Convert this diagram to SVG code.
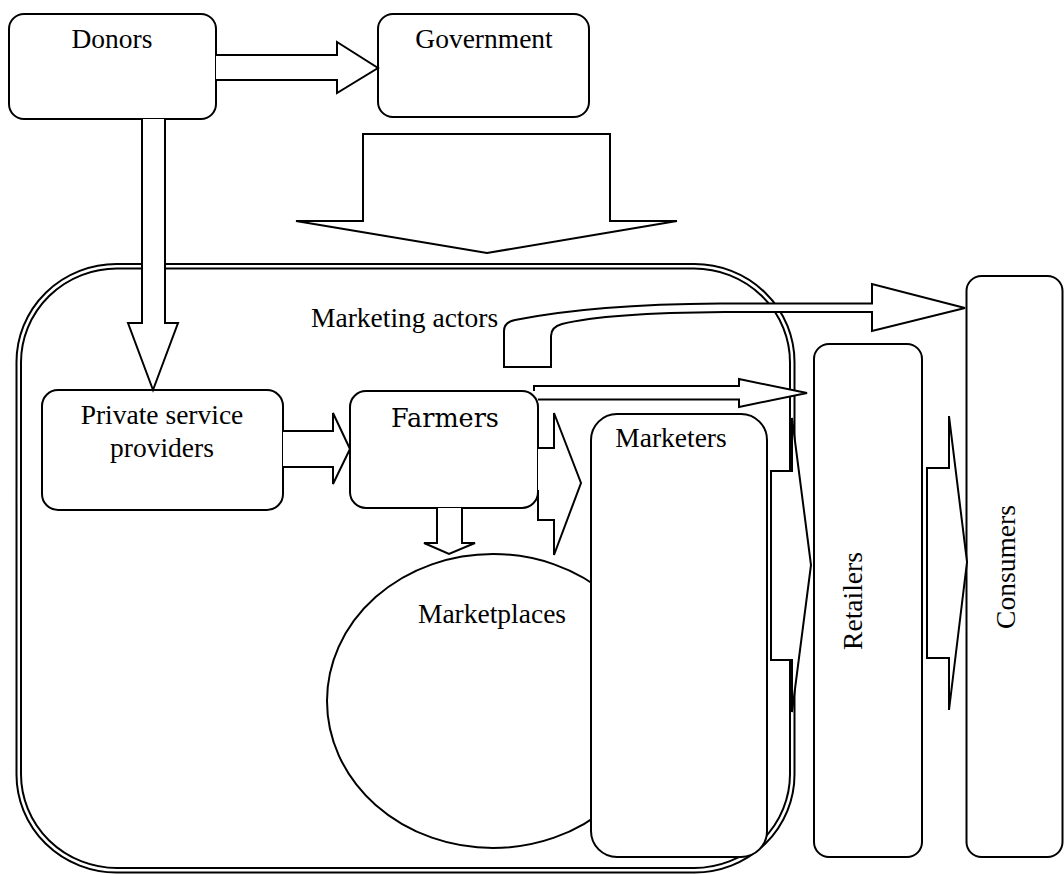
<svg xmlns="http://www.w3.org/2000/svg" width="1064" height="874" viewBox="0 0 1064 874">
  <style>
    .box { fill: #fff; stroke: #000; stroke-width: 2; }
    .frame { fill: none; stroke: #000; stroke-width: 2; }
    .arrow { fill: #fff; stroke: #000; stroke-width: 2; stroke-linejoin: miter; }
    .lbl { font-family: "Liberation Serif", "Times New Roman", serif; font-size: 27.5px; fill: #000; }
    .lbl-c { font-family: "DejaVu Serif", "Liberation Serif", serif; font-size: 25.5px; fill: #000; }
  </style>
  <rect width="1064" height="874" fill="#fff"/>

  <!-- Marketing actors enclosure: double-lined rounded frame -->
  <g id="marketing-actors">
    <rect x="16.5" y="264" width="778" height="608.5" rx="100" ry="98" fill="#fff" stroke="#000" stroke-width="2"/>
    <rect x="21" y="268.5" width="769" height="599.5" rx="96" ry="94" class="frame"/>
    <text class="lbl" x="311" y="327">Marketing actors</text>
  </g>

  <g id="donors">
    <rect class="box" x="9" y="14" width="207" height="105" rx="15"/>
    <text class="lbl" x="112" y="48" text-anchor="middle">Donors</text>
  </g>

  <g id="government">
    <rect class="box" x="378" y="14" width="211" height="103" rx="15"/>
    <text class="lbl" x="484" y="48" text-anchor="middle">Government</text>
  </g>

  <g id="private-service-providers">
    <rect class="box" x="42" y="390" width="241" height="120" rx="16"/>
    <text class="lbl" x="162" y="424" text-anchor="middle">Private service</text>
    <text class="lbl" x="162" y="457" text-anchor="middle">providers</text>
  </g>

  <g id="farmers">
    <rect class="box" x="350" y="391" width="188" height="117" rx="16"/>
    <text class="lbl-c" x="445" y="427" text-anchor="middle">Farmers</text>
  </g>

  <g id="marketplaces">
    <ellipse class="box" cx="493" cy="701" rx="166" ry="147"/>
    <text class="lbl" x="492" y="623" text-anchor="middle">Marketplaces</text>
  </g>

  <g id="marketers">
    <rect class="box" x="591" y="414" width="176" height="443" rx="26"/>
    <text class="lbl" x="671" y="447" text-anchor="middle">Marketers</text>
  </g>

  <g id="retailers">
    <rect class="box" x="814" y="344" width="108" height="513" rx="15"/>
    <text class="lbl" transform="translate(862,601) rotate(-90)" text-anchor="middle">Retailers</text>
  </g>

  <g id="consumers">
    <rect class="box" x="966.5" y="276" width="96" height="581" rx="15"/>
    <text class="lbl" transform="translate(1015,567) rotate(-90)" text-anchor="middle">Consumers</text>
  </g>

  <!-- Block arrows between actors -->
  <g id="connectors">
    <!-- Donors to Government -->
    <path class="arrow" d="M216,55 L337,55 L337,42 L378,68 L337,93 L337,80 L216,80"/>
    <!-- Government down into the marketing actors -->
    <path class="arrow" d="M363,134 L610,134 L610,221 L677,221 L487,253 L296,221 L363,221 Z"/>
    <!-- Donors to private service providers -->
    <path class="arrow" d="M142,119 L142,323 L128,323 L153,390 L178,323 L165,323 L165,119"/>
    <!-- Private service providers to Farmers -->
    <path class="arrow" d="M283,431 L333,431 L333,413 L350,449 L333,484 L333,467 L283,467"/>
    <!-- Farmers to Marketplaces -->
    <path class="arrow" d="M437,508 L437,543 L424,543 L449,554 L475,543 L462,543 L462,508"/>
    <!-- Farmers to Marketers -->
    <path class="arrow" d="M538,448 L554,448 L554,413 L581,483 L554,555 L554,520 L538,520 L538,490"/>
    <!-- Farmers to Retailers -->
    <path class="arrow" d="M534,391 L534,386 L739,386 L739,379 L807,393 L739,407 L739,399.5 L538,399.5"/>
    <!-- Marketing actors to Consumers (bent arrow) -->
    <path class="arrow" d="M504,367 L504,331 Q504,322 515,320 C570,309 640,304 720,303.5 L872,303.5 L872,284 L965,308 L872,331 L872,312 L725,312 C650,312.5 590,317 562,324 Q551,327 551,336 L551,367 Z"/>
    <!-- Marketers to Retailers -->
    <path class="arrow" d="M771,660 L771,471 L792,471 L792,418 L811,565 L792,712 L792,660 Z"/>
    <!-- Retailers to Consumers -->
    <path class="arrow" d="M927,658 L927,468 L949,468 L949,416 L967,562 L949,710 L949,658 Z"/>
  </g>
</svg>
